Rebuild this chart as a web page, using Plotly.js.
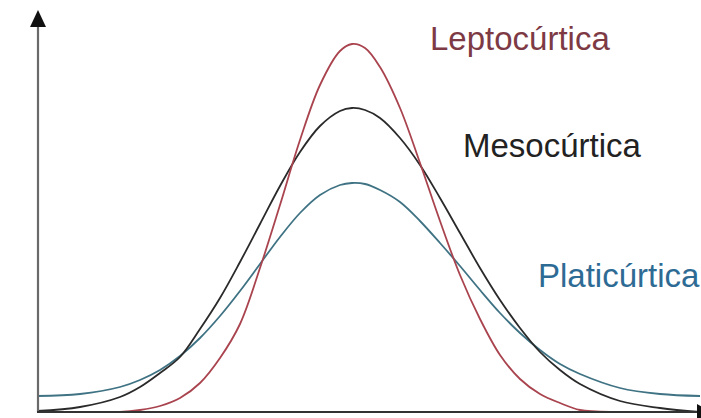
<!DOCTYPE html>
<html>
<head>
<meta charset="utf-8">
<script src="https://cdn.plot.ly/plotly-3.0.1.min.js"></script>
<style>html,body{margin:0;padding:0;background:#fff;}#chart{width:701px;height:418px;}</style>
</head>
<body>
<div id="chart"></div>
<script>
// Sample positions along the horizontal axis
const xValues = [37, 80, 120, 140, 160, 180, 200, 220, 240, 260, 280, 300, 320, 340, 352, 365, 380, 400, 420, 440, 460, 480, 500, 520, 540, 560, 580, 620, 660, 700];
// Curve heights
const leptoValues = [0, 0, 0, 2, 6, 14, 29, 54, 88, 144, 207, 272, 327, 361, 368, 364, 345, 304, 249, 191, 137, 93, 57, 33, 18, 9, 2, 0, 0, 0];
const mesoValues = [1, 5, 15, 25, 39, 55, 83, 114, 150, 188, 226, 260, 286, 301, 304, 302, 294, 274, 247, 214, 179, 144, 112, 84, 60, 42, 28, 11, 4, 0];
const platiValues = [16, 18, 25, 32, 42, 56, 74, 96, 121, 148, 175, 199, 217, 227, 229, 228, 222, 210, 191, 169, 146, 122, 99, 79, 62, 48, 38, 24, 18, 16];
const labels = ["Leptocúrtica", "Mesocúrtica", "Platicúrtica"];

const font = "Liberation Sans, Arial, sans-serif";
const traces = [
  {x: xValues, y: platiValues, mode: "lines", line: {color: "#3f7384", width: 1.8, shape: "spline", smoothing: 1}, hoverinfo: "skip"},
  {x: xValues, y: mesoValues, mode: "lines", line: {color: "#2a2a2a", width: 1.8, shape: "spline", smoothing: 1}, hoverinfo: "skip"},
  {x: xValues, y: leptoValues, mode: "lines", line: {color: "#a9444f", width: 1.8, shape: "spline", smoothing: 1}, hoverinfo: "skip"}
];

const hidden = {visible: true, showline: false, showgrid: false, zeroline: false, showticklabels: false, ticks: "", fixedrange: true};
const layout = {
  width: 701, height: 418,
  margin: {l: 0, r: 0, t: 0, b: 0, pad: 0},
  paper_bgcolor: "#ffffff", plot_bgcolor: "#ffffff",
  showlegend: false,
  xaxis: Object.assign({range: [0, 701]}, hidden),
  yaxis: Object.assign({range: [-6, 412]}, hidden),
  shapes: [
    {type: "line", xref: "x", yref: "y", x0: 38, x1: 38, y0: 0, y1: 388, line: {color: "#6a6a6a", width: 2.2}},
    {type: "path", xref: "x", yref: "y", path: "M 30,385 L 46,385 L 38,402 Z", fillcolor: "#111", line: {width: 0}},
    {type: "line", xref: "x", yref: "y", x0: 37, x1: 701, y0: 0, y1: 0, line: {color: "#333333", width: 2.2}},
    {type: "path", xref: "x", yref: "y", path: "M 697,-8 L 697,8 L 712,0 Z", fillcolor: "#111", line: {width: 0}}
  ],
  annotations: [
    {text: labels[0], xref: "x", yref: "y", x: 428, y: 374, xanchor: "left", yanchor: "middle", showarrow: false, font: {family: font, size: 33, color: "#7d3a45"}},
    {text: labels[1], xref: "x", yref: "y", x: 461, y: 267, xanchor: "left", yanchor: "middle", showarrow: false, font: {family: font, size: 33, color: "#222222"}},
    {text: labels[2], xref: "x", yref: "y", x: 536, y: 137, xanchor: "left", yanchor: "middle", showarrow: false, font: {family: font, size: 33, color: "#2e6b94"}}
  ]
};
Plotly.newPlot("chart", traces, layout, {staticPlot: true, displayModeBar: false});
</script>
</body>
</html>
